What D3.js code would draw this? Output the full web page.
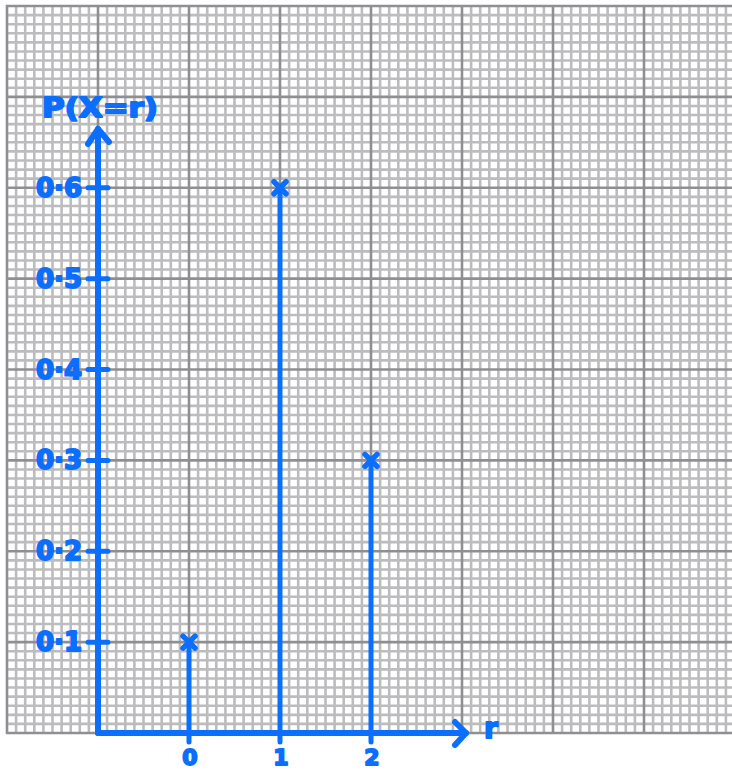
<!DOCTYPE html>
<html>
<head>
<meta charset="utf-8">
<script src="https://cdn.jsdelivr.net/npm/d3@7"></script>
<style>
  body { margin:0; background:#fff; }
  svg { display:block; }
</style>
</head>
<body>
<div id="chart-area"></div>
<script>
// values
var rValues=[0,1,2];
var probs=[0.1,0.6,0.3];
var yTicks=[0.1,0.2,0.3,0.4,0.5,0.6];
var yTickLabels=["0·1","0·2","0·3","0·4","0·5","0·6"];
var xTickLabels=["0","1","2"];

var width=732, height=772;
var blue="#0b6efd";

var svg=d3.select("#chart-area").append("svg")
    .attr("width",width)
    .attr("height",height);

// graph paper: one big square = 1 unit of r across, 0.1 of probability up
var x=d3.scaleLinear().domain([-2,6]).range([7,735]);
var y=d3.scaleLinear().domain([0,0.8]).range([733,6]);

var grid=svg.append("g").attr("class","grid");

// minor lines
var minorX=d3.range(-20,61).filter(d=>d%10!==0).map(d=>d/10);
var minorY=d3.range(0,81).filter(d=>d%10!==0).map(d=>d/100);
grid.selectAll(".mx").data(minorX).enter().append("line")
    .attr("x1",d=>x(d)).attr("x2",d=>x(d))
    .attr("y1",y(0.8)).attr("y2",y(0))
    .attr("stroke","#bcbcbe").attr("stroke-width",2.6);
grid.selectAll(".my").data(minorY).enter().append("line")
    .attr("x1",x(-2)).attr("x2",width)
    .attr("y1",d=>y(d)).attr("y2",d=>y(d))
    .attr("stroke","#bcbcbe").attr("stroke-width",2.6);

// major lines
var majorX=d3.range(-2,7);
var majorY=d3.range(0,9).map(d=>d/10);
grid.selectAll(".Mx").data(majorX).enter().append("line")
    .attr("x1",d=>x(d)).attr("x2",d=>x(d))
    .attr("y1",y(0.8)-1).attr("y2",y(0)+1)
    .attr("stroke","#8f8f93").attr("stroke-width",2.6);
grid.selectAll(".My").data(majorY).enter().append("line")
    .attr("x1",x(-2)-1).attr("x2",width)
    .attr("y1",d=>y(d)).attr("y2",d=>y(d))
    .attr("stroke","#8f8f93").attr("stroke-width",2.6);

var ink=svg.append("g")
    .attr("stroke",blue)
    .attr("stroke-linecap","round")
    .attr("stroke-linejoin","round")
    .attr("fill","none");

var x0=x(-1), y0=y(0);

// axes with arrows
ink.append("line").attr("x1",x0).attr("y1",y0).attr("x2",x0).attr("y2",129).attr("stroke-width",6);
ink.append("path").attr("d","M"+(x0-10)+",144L"+x0+",129L"+(x0+11)+",142").attr("stroke-width",6);
ink.append("line").attr("x1",x0).attr("y1",y0).attr("x2",466).attr("y2",y0).attr("stroke-width",6);
ink.append("path").attr("d","M455,722L466,"+y0+"L455,745").attr("stroke-width",6);

// y ticks
ink.selectAll(".yt").data(yTicks).enter().append("line")
    .attr("x1",x0-10).attr("x2",x0+10)
    .attr("y1",d=>y(d)).attr("y2",d=>y(d))
    .attr("stroke-width",5);

// x ticks
ink.selectAll(".xt").data(rValues).enter().append("line")
    .attr("x1",d=>x(d)).attr("x2",d=>x(d))
    .attr("y1",y0).attr("y2",y0+9)
    .attr("stroke-width",5);

// stems
ink.selectAll(".stem").data(rValues).enter().append("line")
    .attr("x1",d=>x(d)).attr("x2",d=>x(d))
    .attr("y1",y0).attr("y2",(d,i)=>y(probs[i]))
    .attr("stroke-width",5);

// crosses at the tops
var s=6;
ink.selectAll(".cross").data(rValues).enter().append("path")
    .attr("d",(d,i)=>{
        var cx=x(d), cy=y(probs[i]);
        return "M"+(cx-s)+","+(cy-s)+"L"+(cx+s)+","+(cy+s)+
               "M"+(cx+s)+","+(cy-s)+"L"+(cx-s)+","+(cy+s);
    })
    .attr("stroke-width",5.5);

var txt=svg.append("g")
    .attr("fill",blue)
    .attr("stroke",blue)
    .attr("stroke-width",1.8)
    .attr("stroke-linejoin","round")
    .attr("font-family","DejaVu Sans")
    .attr("font-weight","bold");

txt.selectAll(".yl").data(yTicks).enter().append("text")
    .attr("x",82)
    .attr("y",d=>y(d)+9)
    .attr("text-anchor","end")
    .attr("font-size","26px")
    .text((d,i)=>yTickLabels[i]);

txt.selectAll(".xl").data(rValues).enter().append("text")
    .attr("x",d=>x(d)+1)
    .attr("y",765)
    .attr("text-anchor","middle")
    .attr("font-size","22px")
    .text((d,i)=>xTickLabels[i]);

txt.append("text")
    .attr("x",484).attr("y",738)
    .attr("font-size","28px")
    .text("r");

txt.append("text")
    .attr("x",100).attr("y",117)
    .attr("text-anchor","middle")
    .attr("font-size","26px")
    .attr("textLength",116)
    .attr("lengthAdjust","spacingAndGlyphs")
    .text("P(X=r)");
</script>
</body>
</html>
